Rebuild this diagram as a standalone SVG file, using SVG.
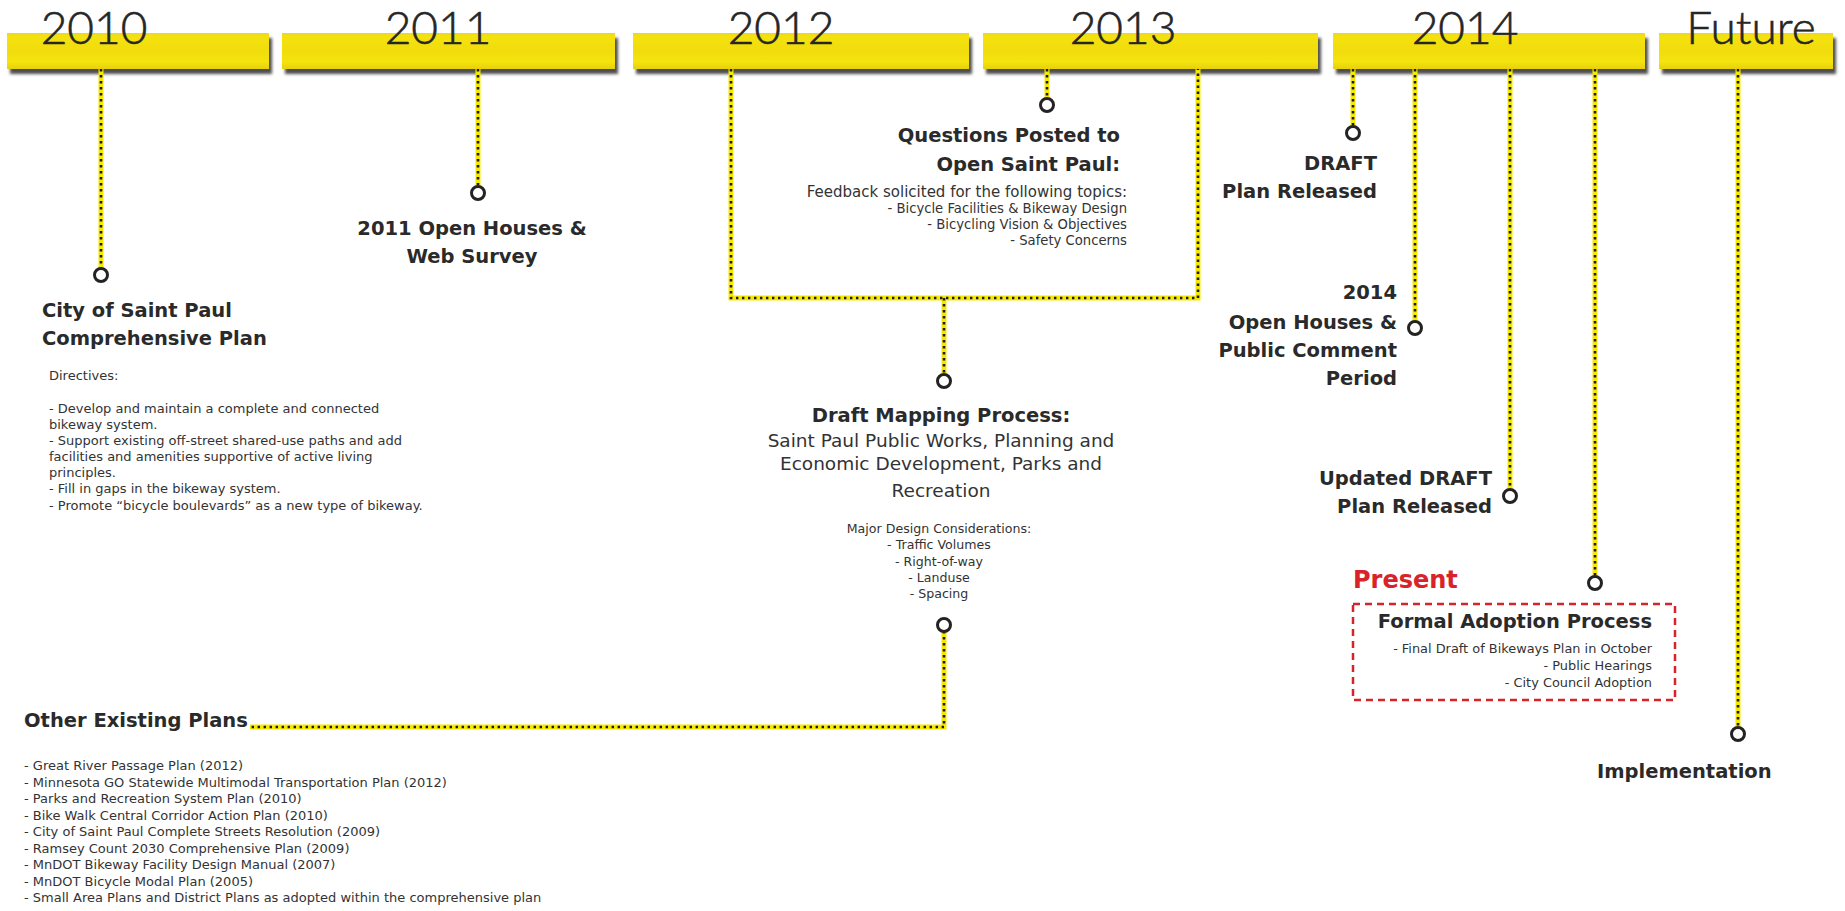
<svg xmlns="http://www.w3.org/2000/svg" width="1845" height="911" viewBox="0 0 1845 911">
  <defs>
    <linearGradient id="barFill" x1="0" y1="0" x2="0" y2="1">
      <stop offset="0" stop-color="#e9d52a"/>
      <stop offset="0.08" stop-color="#f4e20c"/>
      <stop offset="0.5" stop-color="#f1dc10"/>
      <stop offset="0.8" stop-color="#f5e40a"/>
      <stop offset="1" stop-color="#e6d00e"/>
    </linearGradient>
    <filter id="barShadow" x="-5%" y="-30%" width="110%" height="180%">
      <feDropShadow dx="3" dy="5" stdDeviation="1.6" flood-color="#2e2e2e" flood-opacity="0.85"/>
    </filter>
  </defs>
  <style>
    .bar { fill: url(#barFill); filter: url(#barShadow); }
    .year { font-family: Lato, "Liberation Sans", sans-serif; font-weight: 300; font-size: 46px; fill: #262626; stroke: #262626; stroke-width: 0.6; text-anchor: middle; }
    .rail { fill: none; stroke: #f7e800; stroke-width: 5; }
    .dots { fill: none; stroke: #1c1c1c; stroke-width: 2.6; stroke-dasharray: 2.4 3.6; }
    .pin { fill: #ffffff; stroke: #232323; stroke-width: 3; }
    .head { font-family: "DejaVu Sans", sans-serif; font-weight: bold; font-size: 19.5px; fill: #2a2a2a; }
    .body { font-family: "DejaVu Sans", sans-serif; fill: #333333; }
    .s13 { font-size: 13px; }
    .s125 { font-size: 12.6px; }
    .s129 { font-size: 12.9px; }
    .s132 { font-size: 13.2px; }
    .s15 { font-size: 15px; }
    .s185 { font-size: 18.5px; }
    .end { text-anchor: end; }
    .mid { text-anchor: middle; }
    .present { font-family: "DejaVu Sans", sans-serif; font-weight: bold; font-size: 24px; fill: #d8232a; }
    .redbox { fill: none; stroke: #d8232a; stroke-width: 2.5; stroke-dasharray: 7 5; }
  </style>

  <!-- year bars -->
  <g id="years">
    <rect class="bar" x="7" y="33" width="262" height="36"/>
    <rect class="bar" x="282" y="33" width="333" height="36"/>
    <rect class="bar" x="633" y="33" width="336" height="36"/>
    <rect class="bar" x="983" y="33" width="335" height="36"/>
    <rect class="bar" x="1333" y="33" width="312" height="36"/>
    <rect class="bar" x="1659" y="33" width="174" height="36"/>
    <text class="year" x="94" y="44">2010</text>
    <text class="year" x="438" y="44">2011</text>
    <text class="year" x="781" y="44">2012</text>
    <text class="year" x="1123" y="44">2013</text>
    <text class="year" x="1465" y="44">2014</text>
    <text class="year" x="1751" y="44">Future</text>
  </g>

  <!-- dotted connectors -->
  <g id="connectors">
    <g class="rail">
      <path d="M101 69 V269"/>
      <path d="M478 69 V187"/>
      <path d="M731 69 V298 H1198 V69"/>
      <path d="M944 298 V375"/>
      <path d="M1047 69 V99"/>
      <path d="M944 631 V727 H250"/>
      <path d="M1353 69 V127"/>
      <path d="M1415 69 V322"/>
      <path d="M1510 69 V490"/>
      <path d="M1595 69 V577"/>
      <path d="M1738 69 V728"/>
    </g>
    <g class="dots">
      <path d="M101 69 V269"/>
      <path d="M478 69 V187"/>
      <path d="M731 69 V298 H1198 V69"/>
      <path d="M944 298 V375"/>
      <path d="M1047 69 V99"/>
      <path d="M944 631 V727 H250"/>
      <path d="M1353 69 V127"/>
      <path d="M1415 69 V322"/>
      <path d="M1510 69 V490"/>
      <path d="M1595 69 V577"/>
      <path d="M1738 69 V728"/>
    </g>
  </g>

  <!-- 2010 -->
  <g id="node-comprehensive-plan">
    <circle class="pin" cx="101" cy="275" r="6.5"/>
    <text class="head" x="42" y="317">City of Saint Paul</text>
    <text class="head" x="42" y="345">Comprehensive Plan</text>
    <g class="body s13">
      <text x="49" y="380">Directives:</text>
      <text x="49" y="413">- Develop and maintain a complete and connected</text>
      <text x="49" y="429">bikeway system.</text>
      <text x="49" y="445">- Support existing off-street shared-use paths and add</text>
      <text x="49" y="461">facilities and amenities supportive of active living</text>
      <text x="49" y="477">principles.</text>
      <text x="49" y="493">- Fill in gaps in the bikeway system.</text>
      <text x="49" y="510">- Promote “bicycle boulevards” as a new type of bikeway.</text>
    </g>
  </g>

  <!-- 2011 -->
  <g id="node-open-houses-2011">
    <circle class="pin" cx="478" cy="193" r="6.5"/>
    <text class="head mid" x="472" y="235">2011 Open Houses &amp;</text>
    <text class="head mid" x="472" y="263">Web Survey</text>
  </g>

  <!-- 2013 questions -->
  <g id="node-open-saint-paul">
    <circle class="pin" cx="1047" cy="105" r="6.5"/>
    <text class="head end" x="1120" y="142">Questions Posted to</text>
    <text class="head end" x="1120" y="171">Open Saint Paul:</text>
    <text class="body s15 end" x="1127" y="197">Feedback solicited for the following topics:</text>
    <text class="body s132 end" x="1127" y="213">- Bicycle Facilities &amp; Bikeway Design</text>
    <text class="body s132 end" x="1127" y="229">- Bicycling Vision &amp; Objectives</text>
    <text class="body s132 end" x="1127" y="245">- Safety Concerns</text>
  </g>

  <!-- draft mapping -->
  <g id="node-draft-mapping">
    <circle class="pin" cx="944" cy="381" r="6.5"/>
    <text class="head mid" x="941" y="422">Draft Mapping Process:</text>
    <text class="body s185 mid" x="941" y="447">Saint Paul Public Works, Planning and</text>
    <text class="body s185 mid" x="941" y="470">Economic Development, Parks and</text>
    <text class="body s185 mid" x="941" y="497">Recreation</text>
    <text class="body s125 mid" x="939" y="533">Major Design Considerations:</text>
    <text class="body s125 mid" x="939" y="549">- Traffic Volumes</text>
    <text class="body s125 mid" x="939" y="566">- Right-of-way</text>
    <text class="body s125 mid" x="939" y="582">- Landuse</text>
    <text class="body s125 mid" x="939" y="598">- Spacing</text>
    <circle class="pin" cx="944" cy="625" r="6.5"/>
  </g>

  <!-- other plans -->
  <g id="node-other-plans">
    <text class="head" x="24" y="727">Other Existing Plans</text>
    <g class="body s13">
      <text x="24" y="770">- Great River Passage Plan (2012)</text>
      <text x="24" y="786.5">- Minnesota GO Statewide Multimodal Transportation Plan (2012)</text>
      <text x="24" y="803">- Parks and Recreation System Plan (2010)</text>
      <text x="24" y="819.5">- Bike Walk Central Corridor Action Plan (2010)</text>
      <text x="24" y="836">- City of Saint Paul Complete Streets Resolution (2009)</text>
      <text x="24" y="852.5">- Ramsey Count 2030 Comprehensive Plan (2009)</text>
      <text x="24" y="869">- MnDOT Bikeway Facility Design Manual (2007)</text>
      <text x="24" y="885.5">- MnDOT Bicycle Modal Plan (2005)</text>
      <text x="24" y="902">- Small Area Plans and District Plans as adopted within the comprehensive plan</text>
    </g>
  </g>

  <!-- 2014 -->
  <g id="node-draft-released">
    <circle class="pin" cx="1353" cy="133" r="6.5"/>
    <text class="head end" x="1377" y="170">DRAFT</text>
    <text class="head end" x="1377" y="198">Plan Released</text>
  </g>

  <g id="node-open-houses-2014">
    <circle class="pin" cx="1415" cy="328" r="6.5"/>
    <text class="head end" x="1397" y="299">2014</text>
    <text class="head end" x="1397" y="329">Open Houses &amp;</text>
    <text class="head end" x="1397" y="357">Public Comment</text>
    <text class="head end" x="1397" y="385">Period</text>
  </g>

  <g id="node-updated-draft">
    <circle class="pin" cx="1510" cy="496" r="6.5"/>
    <text class="head end" x="1492" y="485">Updated DRAFT</text>
    <text class="head end" x="1492" y="513">Plan Released</text>
  </g>

  <g id="node-formal-adoption">
    <circle class="pin" cx="1595" cy="583" r="6.5"/>
    <text class="present" x="1353" y="588">Present</text>
    <rect class="redbox" x="1353" y="604" width="322" height="96"/>
    <text class="head end" x="1652" y="628">Formal Adoption Process</text>
    <text class="body s129 end" x="1652" y="653">- Final Draft of Bikeways Plan in October</text>
    <text class="body s129 end" x="1652" y="670">- Public Hearings</text>
    <text class="body s129 end" x="1652" y="687">- City Council Adoption</text>
  </g>

  <!-- future -->
  <g id="node-implementation">
    <circle class="pin" cx="1738" cy="734" r="6.5"/>
    <text class="head" x="1597" y="778">Implementation</text>
  </g>
</svg>
